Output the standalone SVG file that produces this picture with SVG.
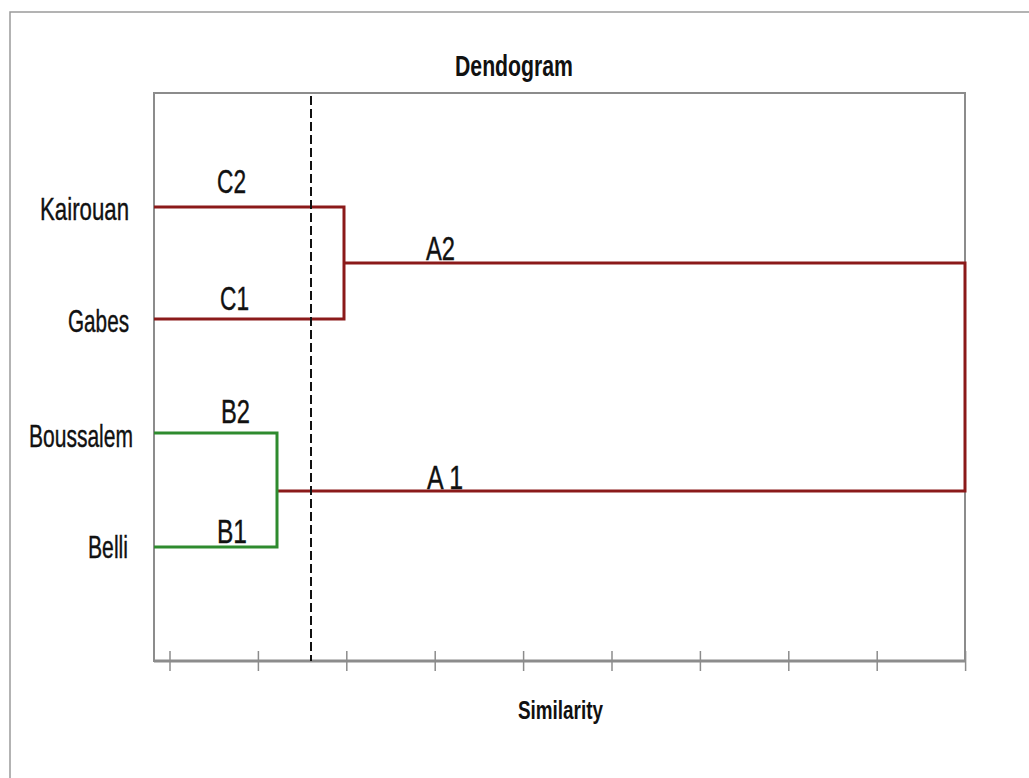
<svg xmlns="http://www.w3.org/2000/svg" width="1029" height="778" viewBox="0 0 1029 778">
<style>
text{font-family:"Liberation Sans",Arial,sans-serif;fill:#111;}
.lab{font-size:33px;stroke:#111;stroke-width:0.4;}
.leaf{font-size:32px;stroke:#111;stroke-width:0.4;}
.red{stroke:#8b1a1a;stroke-width:3;fill:none;}
.green{stroke:#2e8b2e;stroke-width:3;fill:none;}
.axis{stroke:#8c8c8c;fill:none;}
</style>
<rect width="1029" height="778" fill="#fff"/>
<rect x="10" y="12" width="1030" height="780" fill="none" stroke="#9a9a9a" stroke-width="1.5"/>
<g id="chart-frame">
<rect class="axis" x="154" y="93" width="811" height="568" stroke-width="2"/>
<line class="axis" x1="154" y1="661" x2="966" y2="661" stroke-width="3"/>
<g class="axis" stroke-width="1.5">
<line x1="170" y1="651" x2="170" y2="671"/>
<line x1="258.4" y1="651" x2="258.4" y2="671"/>
<line x1="346.8" y1="651" x2="346.8" y2="671"/>
<line x1="435.2" y1="651" x2="435.2" y2="671"/>
<line x1="523.6" y1="651" x2="523.6" y2="671"/>
<line x1="612" y1="651" x2="612" y2="671"/>
<line x1="700.4" y1="651" x2="700.4" y2="671"/>
<line x1="788.8" y1="651" x2="788.8" y2="671"/>
<line x1="877.2" y1="651" x2="877.2" y2="671"/>
<line x1="965.6" y1="651" x2="965.6" y2="671"/>
</g>
</g>
<text id="title" x="455" y="76" font-size="29" font-weight="bold" textLength="118" lengthAdjust="spacingAndGlyphs">Dendogram</text>
<text id="xlabel" x="518" y="719" font-size="26" font-weight="bold" textLength="85" lengthAdjust="spacingAndGlyphs">Similarity</text>
<g id="leaf-kairouan"><text class="leaf" x="40" y="220" textLength="89" lengthAdjust="spacingAndGlyphs">Kairouan</text></g>
<g id="leaf-gabes"><text class="leaf" x="68" y="332" textLength="61" lengthAdjust="spacingAndGlyphs">Gabes</text></g>
<g id="leaf-boussalem"><text class="leaf" x="29" y="447" textLength="104" lengthAdjust="spacingAndGlyphs">Boussalem</text></g>
<g id="leaf-belli"><text class="leaf" x="88" y="558" textLength="40" lengthAdjust="spacingAndGlyphs">Belli</text></g>
<g id="connectors">
<path class="red" d="M154 207H344V319H154"/>
<path class="red" d="M344 263H965V491H277"/>
<path class="green" d="M154 433H277V547H154"/>
<line x1="311" y1="96" x2="311" y2="661" stroke="#111" stroke-width="2" stroke-dasharray="9,4"/>
</g>
<g id="cluster-labels">
<text class="lab" x="217" y="193" textLength="29" lengthAdjust="spacingAndGlyphs">C2</text>
<text class="lab" x="220" y="310" textLength="29" lengthAdjust="spacingAndGlyphs">C1</text>
<text class="lab" x="221" y="423" textLength="29" lengthAdjust="spacingAndGlyphs">B2</text>
<text class="lab" x="217" y="543" textLength="30" lengthAdjust="spacingAndGlyphs">B1</text>
<text class="lab" x="426" y="260" textLength="29" lengthAdjust="spacingAndGlyphs">A2</text>
<text class="lab" x="427" y="489" textLength="36" lengthAdjust="spacingAndGlyphs">A 1</text>
</g>
</svg>
